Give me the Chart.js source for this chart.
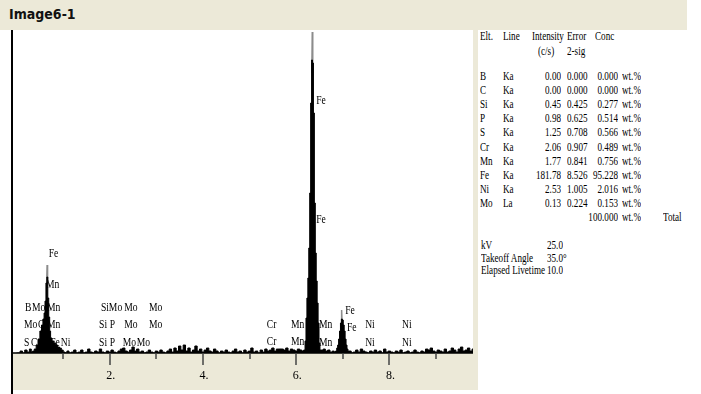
<!DOCTYPE html>
<html>
<head>
<meta charset="utf-8">
<title>Image6-1</title>
<script src="https://cdn.jsdelivr.net/npm/chart.js@4.4.1/dist/chart.umd.min.js"></script>
<style>
body{margin:0;width:701px;height:394px;background:#fff;position:relative;overflow:hidden;font-family:"Liberation Serif",serif;color:#000;}
#bar{position:absolute;left:0;top:0;width:687px;height:30px;background:#ece9d8;}
#title{position:absolute;left:9px;top:6px;font:bold 14px "DejaVu Sans Condensed",sans-serif;color:#111;}
#lline{position:absolute;left:11px;top:30px;width:2px;height:364px;background:#000;}
#rstrip{position:absolute;left:473px;top:30px;width:5px;height:360px;background:#ece9d8;}
#chart{position:absolute;left:13px;top:30px;}
.t{position:absolute;font-size:12px;line-height:12px;white-space:nowrap;transform:scaleX(.76);transform-origin:left center;}
.t.r{transform-origin:right center;}
</style>
</head>
<body>
<div id="bar"><div id="title">Image6-1</div></div>
<div id="lline"></div>
<canvas id="chart" width="460" height="360"></canvas>
<div id="rstrip"></div>
<div id="table"></div>
<script>
// spectrum counts per energy channel (keV)
const specEnergy = [
  0.00,0.05,0.10,0.15,0.20,0.25,0.30,0.33,
  0.36,0.40,0.44,0.48,0.52,0.55,0.58,0.60,0.62,0.64,0.66,0.68,0.70,0.72,0.74,0.78,0.82,0.86,0.90,0.94,0.98,
  1.02,1.06,1.10,1.15,1.20,1.25,1.30,1.35,1.40,1.45,1.50,1.55,1.60,1.65,1.70,1.75,1.80,1.85,1.90,1.95,
  2.00,2.05,2.10,2.15,2.20,2.25,2.30,2.35,2.40,2.45,2.50,2.55,2.60,2.65,2.70,2.75,2.80,2.85,2.90,2.95,
  3.00,3.05,3.10,3.15,3.20,3.25,3.30,3.35,3.40,3.45,3.50,3.55,3.60,3.65,3.70,3.75,3.80,3.85,3.90,3.95,
  4.00,4.05,4.10,4.15,4.20,4.25,4.30,4.35,4.40,4.45,4.50,4.55,4.60,4.65,4.70,4.75,4.80,4.85,4.90,4.95,
  5.00,5.05,5.10,5.15,5.20,5.25,5.30,5.35,5.40,5.45,5.50,5.55,5.60,5.65,5.70,5.75,5.80,5.85,5.90,5.95,
  6.00,6.05,6.10,6.14,
  6.18,6.20,6.22,6.24,6.26,6.28,6.30,6.32,6.34,6.36,6.38,6.40,6.42,6.44,6.46,6.48,6.50,6.52,
  6.56,6.60,6.65,6.70,6.75,6.80,6.83,
  6.86,6.88,6.90,6.92,6.94,6.96,6.98,7.00,7.02,7.04,7.06,7.08,7.10,7.12,
  7.16,7.20,7.25,7.30,7.35,7.40,7.45,7.50,7.55,7.60,7.65,7.70,7.75,7.80,7.85,7.90,7.95,
  8.00,8.05,8.10,8.15,8.20,8.25,8.30,8.35,8.40,8.45,8.50,8.55,8.60,8.65,8.70,8.75,8.80,8.85,8.90,8.95,
  9.00,9.05,9.10,9.15,9.20,9.25,9.30,9.35,9.40,9.45,9.50,9.55,9.60,9.65,9.70,9.75,9.80
];
const specCounts = [
  0,0,2,0,3,1,4,1,
  2,4,8,14,22,28,34,40,52,70,76,55,36,22,15,12,10,8,6,5,3,
  1,0,2,0,1,3,0,1,3,0,1,4,1,0,2,1,4,1,0,2,
  1,3,1,0,2,4,5,2,1,3,6,2,4,1,2,0,1,3,1,0,
  2,1,3,1,0,2,4,1,5,2,7,3,8,2,5,1,3,7,2,4,
  1,3,5,2,1,4,2,0,2,1,3,1,0,2,4,1,2,0,3,1,
  2,5,1,2,0,3,1,4,2,3,5,2,4,4,4,3,5,2,4,3,
  2,4,3,2,
  3,12,35,55,75,105,160,250,293,290,240,150,100,72,50,30,10,3,
  3,4,2,3,1,2,1,
  2,5,8,14,22,30,34,33,28,22,14,8,4,2,
  2,0,1,3,1,4,2,1,0,2,1,3,1,2,0,4,1,
  2,1,0,2,1,3,0,1,2,0,1,3,1,0,2,1,4,3,5,2,
  1,3,2,1,4,1,2,5,3,1,4,6,2,3,5,2,4
];
// thin grey trace on top of the main peaks (null breaks the line)
const traceEnergy = [0.645,0.655,0.665,3.0,6.335,6.345,6.355,6.7,6.965,6.975,6.985];
const traceCounts = [70,88,70,null,280,321,280,null,30,43,30];

// element line markers: text, energy (keV), marker height (counts)
const markText = ['Fe','Mn','B','Mo','Mn','Mo','C','Mn','S','C','C','Fe','Ni',
  'Si','Mo','Mo','Mo','Si','P','Mo','Mo','Si','P','Mo','Mo',
  'Cr','Cr','Mn','Mn','Mn','Mn','Fe','Fe','Ni','Ni','Ni','Ni','Fe','Fe'];
const markEnergy = [0.69,0.63,0.18,0.33,0.65,0.16,0.46,0.65,0.16,0.31,0.50,0.72,0.95,
  1.81,1.98,2.31,2.84,1.77,2.00,2.31,2.84,1.77,2.00,2.28,2.58,
  5.37,5.37,5.89,5.89,6.49,6.49,7.05,7.09,7.48,7.48,8.27,8.27,6.43,6.43];
const markHeight = [99,68,45,45,45,28,28,28,10,10,10,10,10,
  45,45,45,45,28,28,28,28,10,10,10,10,
  28,11,28,11,28,10,42,25,28,10,28,10,252,133];

const majorTicks = [2,4,6,8];
const minorTicks = [1,3,5,7,9];
const tickText = ['2.','4.','6.','8.'];

// quantification table
const elts = ['B','C','Si','P','S','Cr','Mn','Fe','Ni','Mo'];
const lines = ['Ka','Ka','Ka','Ka','Ka','Ka','Ka','Ka','Ka','La'];
const intensity = [0.00,0.00,0.45,0.98,1.25,2.06,1.77,181.78,2.53,0.13];
const error2sig = [0.000,0.000,0.425,0.625,0.708,0.907,0.841,8.526,1.005,0.224];
const conc = [0.000,0.000,0.277,0.514,0.566,0.489,0.756,95.228,2.016,0.153];
const total = 100.000;
const params = [['kV','25.0'],['Takeoff Angle','35.0°'],['Elapsed Livetime','10.0']];

const tbl = document.getElementById('table');
function put(txt, x, y, right){
  const s = document.createElement('span');
  s.className = 't' + (right ? ' r' : '');
  s.textContent = txt;
  s.style.top = (y - 6) + 'px';
  if(right) s.style.right = (701 - x) + 'px'; else s.style.left = x + 'px';
  tbl.appendChild(s);
}
put('Elt.',480,36); put('Line',503,36); put('Intensity',532,36); put('Error',567,36); put('Conc',595,36);
put('(c/s)',538,51); put('2-sig',567,51);
elts.forEach((e,i)=>{
  const y = 76 + i*14.1;
  put(e,480,y); put(lines[i],503,y);
  put(intensity[i].toFixed(2),561,y,true);
  put(error2sig[i].toFixed(3),567,y);
  put(conc[i].toFixed(3),618,y,true);
  put('wt.%',622,y);
});
put(total.toFixed(3),618,217,true); put('wt.%',622,217); put('Total',663,217);
params.forEach((p,i)=>{ const y = 245 + i*12.5; put(p[0],481,y); put(p[1],547,y); });

const frame = {
  id:'frame',
  beforeDraw(c){
    const {ctx, chartArea:a, width, height} = c;
    ctx.save();
    ctx.fillStyle = '#fff'; ctx.fillRect(0,0,width,a.bottom);
    ctx.fillStyle = '#ece9d8'; ctx.fillRect(0,a.bottom,width,height-a.bottom);
    ctx.restore();
  },
  beforeDatasetsDraw(c){
    const ctx = c.ctx, xs = c.scales.x, ys = c.scales.y;
    ctx.save();
    ctx.fillStyle = '#000';
    ctx.font = '12px "Liberation Serif", serif';
    ctx.textBaseline = 'middle';
    markText.forEach((t,i)=>{
      ctx.save();
      ctx.translate(xs.getPixelForValue(markEnergy[i]), ys.getPixelForValue(markHeight[i]));
      ctx.scale(0.8,1);
      ctx.fillText(t,0,0);
      ctx.restore();
    });
    ctx.restore();
  },
  afterDatasetsDraw(c){
    const ctx = c.ctx, xs = c.scales.x;
    const y0 = c.scales.y.getPixelForValue(0);
    ctx.save();
    ctx.strokeStyle = '#000'; ctx.lineWidth = 1.5;
    ctx.beginPath(); ctx.moveTo(0,y0); ctx.lineTo(c.width,y0); ctx.stroke();
    ctx.strokeStyle = '#444'; ctx.lineWidth = 1.5;
    majorTicks.forEach(v=>{ const x = Math.round(xs.getPixelForValue(v)); ctx.beginPath(); ctx.moveTo(x,y0); ctx.lineTo(x,y0+12); ctx.stroke(); });
    minorTicks.forEach(v=>{ const x = Math.round(xs.getPixelForValue(v)); ctx.beginPath(); ctx.moveTo(x,y0); ctx.lineTo(x,y0+6); ctx.stroke(); });
    ctx.fillStyle = '#000';
    ctx.font = '12px "Liberation Serif", serif';
    ctx.textAlign = 'center'; ctx.textBaseline = 'middle';
    majorTicks.forEach((v,i)=> ctx.fillText(tickText[i], xs.getPixelForValue(v)+1, y0+23));
    ctx.restore();
  }
};

new Chart(document.getElementById('chart').getContext('2d'), {
  type:'line',
  data:{datasets:[
    {data:specEnergy.map((e,i)=>({x:e,y:specCounts[i]})), borderColor:'#000', backgroundColor:'#000',
     borderWidth:1, pointRadius:0, fill:'origin', stepped:'middle'},
    {data:traceEnergy.map((e,i)=>({x:e,y:traceCounts[i]})), borderColor:'#8c8c8c', borderWidth:1.5,
     pointRadius:0, fill:false, spanGaps:false}
  ]},
  options:{
    responsive:false, animation:false, devicePixelRatio:1,
    layout:{padding:{left:0,right:0,top:0,bottom:37}},
    scales:{
      x:{type:'linear', min:-0.077, max:9.794, display:false},
      y:{min:0, max:323, display:false}
    },
    plugins:{legend:{display:false}, tooltip:{enabled:false}}
  },
  plugins:[frame]
});
</script>
</body>
</html>
